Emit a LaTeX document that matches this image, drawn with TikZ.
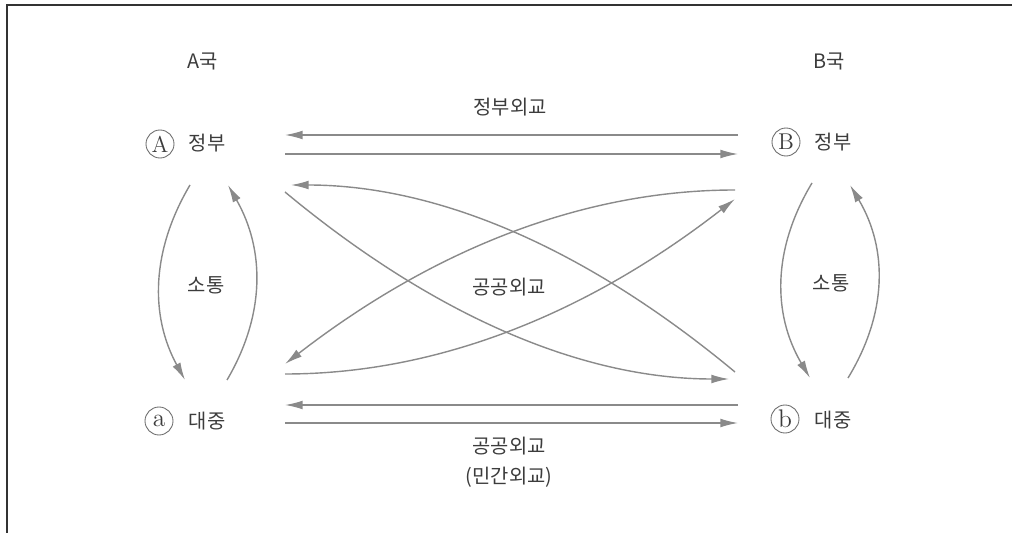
\documentclass[tikz,border=0pt]{standalone}
\usepackage{fontspec}
\newfontfamily\kr{Noto Sans CJK KR}
\usetikzlibrary{arrows.meta,calc}
\definecolor{ln}{HTML}{8A8A8A}
\definecolor{tx}{HTML}{3C3C3C}
\definecolor{fr}{HTML}{333333}
\begin{document}
\begin{tikzpicture}[x=0.02cm,y=-0.02cm,
  lab/.style={font=\kr\fontsize{11.3}{13}\selectfont, text=tx, inner sep=0pt},
  circ/.style={circle, draw=tx!75, line width=0.5pt, minimum size=0.56cm, inner sep=0pt, font=\fontsize{13}{13}\selectfont, text=tx},
  lcirc/.style={circ, font=\fontsize{14.5}{14.5}\selectfont},
  arr/.style={draw=ln, line width=0.8pt, -{Latex[length=10pt,width=5pt]}}]
\useasboundingbox (0,0) rectangle (1012,533);
% frame
\coordinate (f0) at (7,533);
\coordinate (f1) at (7,5);
\coordinate (f2) at (1012,5);
\draw[fr, line width=1.1pt] (f0) -- (f1) -- (f2);
% labels
\node[lab] (ka) at (203,61) {A국};
\node[lab] (kb) at (829,61) {B국};
\node[circ] (cA) at (160,144) {A};
\node[lab] (gA) at (207,143) {정부};
\node[circ] (cB) at (786,142) {B};
\node[lab] (gB) at (833,142) {정부};
\node[lcirc] (ca) at (159,421) {a};
\node[lab] (pa) at (207,421) {대중};
\node[lcirc] (cb) at (785,419) {b};
\node[lab] (pb) at (833,420) {대중};
\node[lab] (gd) at (510,107) {정부외교};
\node[lab] (pd) at (509,287) {공공외교};
\node[lab] (pd2) at (509,446) {공공외교};
\node[lab] (md) at (509,477) {(민간외교)};
\node[lab] (sa) at (206,285) {소통};
\node[lab] (sb) at (831,283) {소통};
% straight arrows
\coordinate (t1s) at (738,135); \coordinate (t1e) at (285,135);
\coordinate (t2s) at (285,154); \coordinate (t2e) at (738,154);
\coordinate (b1s) at (738,405); \coordinate (b1e) at (285,405);
\coordinate (b2s) at (285,423); \coordinate (b2e) at (738,423);
\draw[arr] (t1s) -- (t1e);
\draw[arr] (t2s) -- (t2e);
\draw[arr] (b1s) -- (b1e);
\draw[arr] (b2s) -- (b2e);
% crossing curves (quadratic)
\coordinate (c1s) at (735,190); \coordinate (c1q) at (510,190); \coordinate (c1e) at (285,364);
\coordinate (c2s) at (285,374); \coordinate (c2q) at (510,374); \coordinate (c2e) at (735,199);
\coordinate (c3s) at (285,192); \coordinate (c3q) at (510,379); \coordinate (c3e) at (729,379);
\coordinate (c4s) at (735,372); \coordinate (c4q) at (510,185); \coordinate (c4e) at (291,185);
\foreach \i in {1,2,3,4}{
  \draw[arr] (c\i s) .. controls ($(c\i s)!2/3!(c\i q)$) and ($(c\i e)!2/3!(c\i q)$) .. (c\i e);
}
% side arcs
\coordinate (s1s) at (190,185); \coordinate (s1q) at (132,283); \coordinate (s1e) at (185,380);
\coordinate (s2s) at (227,380); \coordinate (s2q) at (284,283); \coordinate (s2e) at (228,185);
\coordinate (s3s) at (812,183); \coordinate (s3q) at (753,281); \coordinate (s3e) at (810,378);
\coordinate (s4s) at (848,378); \coordinate (s4q) at (907,281); \coordinate (s4e) at (850,185);
\foreach \i in {1,2,3,4}{
  \draw[arr] (s\i s) .. controls ($(s\i s)!2/3!(s\i q)$) and ($(s\i e)!2/3!(s\i q)$) .. (s\i e);
}
\end{tikzpicture}
\end{document}
